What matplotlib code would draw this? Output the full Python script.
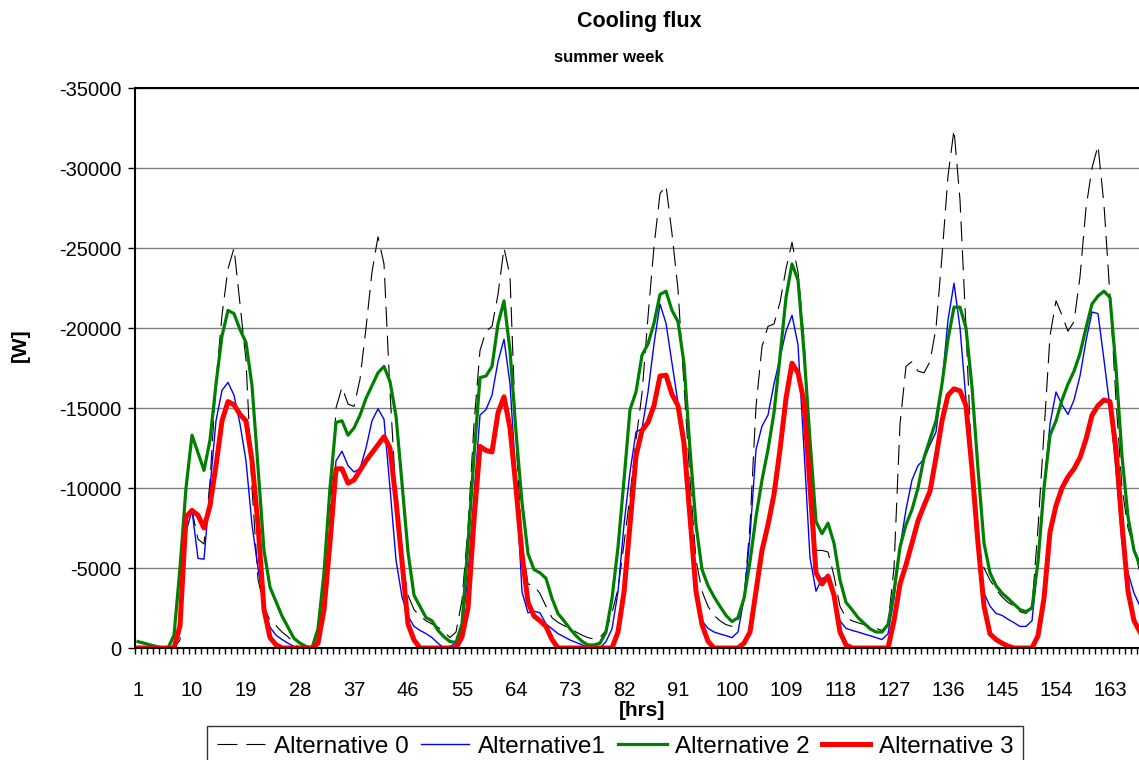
import numpy as np
import matplotlib
matplotlib.use("Agg")
import matplotlib.pyplot as plt

plt.rcParams['font.family'] = ['Liberation Sans', 'DejaVu Sans']
plt.rcParams['axes.unicode_minus'] = False

hours = np.arange(1, 169)

# cooling load magnitudes [W], one row per day (24 h)
alt0 = [0, 0, 0, 0, 0, 0, 0, 500, 8000, 8600, 6800, 6500, 10400, 16600, 20800, 23700, 25000, 21500, 18000, 10000, 4300, 2600, 1700, 1400,
        1000, 700, 300, 0, 0, 0, 200, 2500, 8000, 15000, 16300, 15250, 15100, 16800, 20000, 23500, 25700, 24000, 16000, 9500, 5500, 3300, 2400, 2000,
        1700, 1500, 1300, 1000, 650, 1000, 3000, 7500, 14000, 18600, 19800, 20100, 22100, 25000, 23260, 13000, 6500, 4000, 3900, 3400, 2600, 1900, 1600, 1400,
        1200, 1000, 800, 650, 550, 650, 1100, 2200, 3700, 6500, 9500, 13000, 15900, 20700, 25100, 28400, 28900, 25900, 22400, 16500, 10500, 5500, 3550, 2600,
        2040, 1700, 1460, 1350, 1700, 3100, 7700, 15100, 18850, 20100, 20250, 21600, 23700, 25350, 23500, 19300, 12400, 6100, 6100, 6000, 4500, 2600, 1900, 1700,
        1580, 1460, 1350, 1230, 1100, 1500, 5000, 14000, 17600, 17900, 17300, 17200, 17900, 20000, 24500, 29500, 32400, 28000, 20000, 11000, 6500, 5000, 4250, 3660,
        3200, 2850, 2620, 2270, 2160, 2620, 7500, 13500, 19500, 21700, 20800, 19800, 20400, 23200, 27500, 30000, 31400, 27700, 22000, 15500, 10000, 7500, 6300, 4700]

alt1 = [0, 0, 0, 0, 0, 0, 0, 1000, 7250, 8600, 5600, 5550, 10000, 14200, 16100, 16600, 15800, 14000, 11700, 7700, 5000, 2600, 1300, 800,
        530, 300, 100, 0, 0, 0, 300, 2400, 6600, 11700, 12300, 11400, 11000, 11200, 12500, 14200, 14950, 14300, 10000, 5500, 3200, 2000, 1350, 1100,
        900, 650, 300, 0, 100, 300, 1200, 4500, 9500, 14560, 14900, 15800, 17900, 19300, 16500, 10500, 3500, 2200, 2300, 2200, 1500, 1200, 900, 700,
        500, 350, 200, 50, 0, 0, 400, 1200, 3500, 7700, 11000, 13500, 13700, 16000, 19000, 21500, 20300, 17800, 15300, 12400, 7700, 3500, 1700, 1230,
        1000, 880, 770, 650, 1000, 3100, 7000, 12400, 13870, 14560, 16500, 18150, 19800, 20800, 18950, 12400, 5640, 3550, 4350, 4480, 3300, 1700, 1230, 1100,
        1000, 880, 770, 650, 530, 880, 3100, 6300, 8650, 10500, 11400, 11800, 12700, 13500, 16500, 20500, 22800, 20000, 15500, 11200, 6560, 3430, 2620, 2160,
        2040, 1800, 1580, 1350, 1350, 1700, 5400, 10000, 14000, 16000, 15200, 14600, 15500, 17000, 19200, 21000, 20900, 18000, 15000, 11200, 6560, 4700, 3430, 2620]

alt2 = [400, 300, 200, 100, 0, 0, 800, 5000, 10000, 13300, 12200, 11100, 13000, 16500, 19500, 21100, 20900, 19900, 19100, 16400, 11300, 6100, 3800, 2900,
        2000, 1300, 600, 300, 100, 0, 1200, 4700, 10000, 14100, 14200, 13300, 13750, 14550, 15600, 16400, 17200, 17600, 16650, 14500, 10300, 6000, 3300, 2600,
        1900, 1700, 1100, 700, 400, 350, 1500, 6500, 12000, 16900, 17000, 17600, 20250, 21700, 18600, 13500, 9100, 5900, 4900, 4700, 4350, 3100, 2150, 1700,
        1200, 770, 420, 190, 190, 300, 1000, 3100, 6300, 10500, 14900, 16000, 18300, 19000, 20300, 22100, 22300, 21100, 20400, 17800, 12400, 7700, 4900, 3900,
        3200, 2600, 2040, 1650, 1900, 3100, 5400, 8200, 10500, 12400, 14700, 18200, 21900, 24000, 23000, 18500, 13000, 7900, 7150, 7800, 6550, 4250, 2850, 2400,
        1900, 1550, 1200, 1000, 1000, 1460, 3550, 6300, 7700, 8650, 10000, 11900, 13050, 14200, 16500, 19300, 21300, 21300, 20000, 16300, 11200, 6560, 4700, 3900,
        3430, 3100, 2740, 2400, 2270, 2500, 5400, 10000, 13300, 14200, 15500, 16500, 17300, 18400, 20000, 21500, 22000, 22300, 21900, 17500, 12000, 8200, 6100, 5200]

alt3 = [0, 0, 0, 0, 0, 0, 0, 1400, 8200, 8600, 8300, 7500, 8900, 11400, 14200, 15400, 15200, 14600, 14200, 11700, 7700, 2400, 650, 200,
        0, 0, 0, 0, 0, 0, 300, 2400, 6600, 11200, 11200, 10300, 10500, 11100, 11700, 12200, 12700, 13200, 12500, 9200, 5400, 1500, 500, 0,
        0, 0, 0, 0, 0, 0, 700, 2500, 8000, 12600, 12350, 12250, 14700, 15700, 13750, 10000, 5870, 2850, 2000, 1700, 1350, 530, 0, 0,
        0, 0, 0, 0, 0, 0, 0, 0, 1000, 3500, 7700, 12000, 13600, 14100, 15150, 17000, 17050, 15850, 15150, 12800, 8200, 3550, 1460, 420,
        0, 0, 0, 0, 0, 300, 1000, 3550, 6100, 7700, 9600, 12400, 15600, 17800, 17200, 15400, 10000, 4700, 4000, 4500, 3300, 1000, 190, 0,
        0, 0, 0, 0, 0, 0, 1700, 4000, 5200, 6560, 7950, 8900, 9800, 11900, 14200, 15800, 16200, 16070, 15150, 11200, 6560, 2620, 880, 530,
        300, 120, 0, 0, 0, 0, 770, 3100, 7250, 8900, 10000, 10700, 11200, 11900, 13050, 14550, 15150, 15500, 15400, 12400, 7700, 3550, 1700, 1000]

labels = ["Alternative 0", "Alternative1", "Alternative 2", "Alternative 3"]
xticks = list(range(1, 169, 9))
yticks = list(range(0, -35001, -5000))

W, H = 1139, 760
fig = plt.figure(figsize=(W / 100, H / 100), dpi=100)
ax = fig.add_axes([135 / W, 112 / H, 1008 / W, 560 / H])

ax.plot(hours, -np.array(alt0), color="black", lw=0.8, dashes=[18, 8], label=labels[0])
ax.plot(hours, -np.array(alt1), color="#0000FF", lw=1.0, label=labels[1])
ax.plot(hours, -np.array(alt2), color="#008000", lw=2.3, label=labels[2])
ax.plot(hours, -np.array(alt3), color="#FF0000", lw=3.6, label=labels[3])

ax.set_xlim(0.5, 168.5)
ax.set_ylim(0, -35000)
ax.set_yticks(yticks)
ax.set_yticklabels([str(v) for v in yticks])
ax.yaxis.grid(True, color="#808080", lw=1)
ax.set_axisbelow(True)

ax.set_xticks(xticks)
ax.set_xticklabels([str(v) for v in xticks])
ax.set_xticks(np.arange(0.5, 169, 1), minor=True)
ax.tick_params(axis="x", which="major", length=0, pad=24, labelsize=14.5)
ax.tick_params(axis="x", which="minor", length=4, width=1, direction="out")
ax.tick_params(axis="y", length=5, width=1, direction="out", pad=5, labelsize=14.5)

for s in ["left", "top", "bottom"]:
    ax.spines[s].set_linewidth(1.5)
ax.spines["right"].set_visible(False)

fig.text(639 / W, 1 - 22 / H, "Cooling flux", ha="center", va="center", fontsize=15.5, fontweight="bold")
fig.text(609 / W, 1 - 58 / H, "summer week", ha="center", va="center", fontsize=12, fontweight="bold")
fig.text(20 / W, 1 - 345 / H, "[W]", ha="center", va="center", rotation=90, fontsize=15, fontweight="bold")
fig.text(642 / W, 1 - 710 / H, "[hrs]", ha="center", va="center", fontsize=15, fontweight="bold")

# legend box runs past the lower edge of the picture, as in the reference
leg = fig.legend(loc="upper left", bbox_to_anchor=(207 / W, 1 - 726 / H), ncol=4, fontsize=17.5,
                 frameon=True, fancybox=False, borderpad=0.4, handlelength=2.0,
                 handletextpad=0.35, columnspacing=0.5, borderaxespad=0)
leg.get_frame().set_edgecolor("black")
leg.get_frame().set_linewidth(1)

fig.savefig("out.png", dpi=100)
